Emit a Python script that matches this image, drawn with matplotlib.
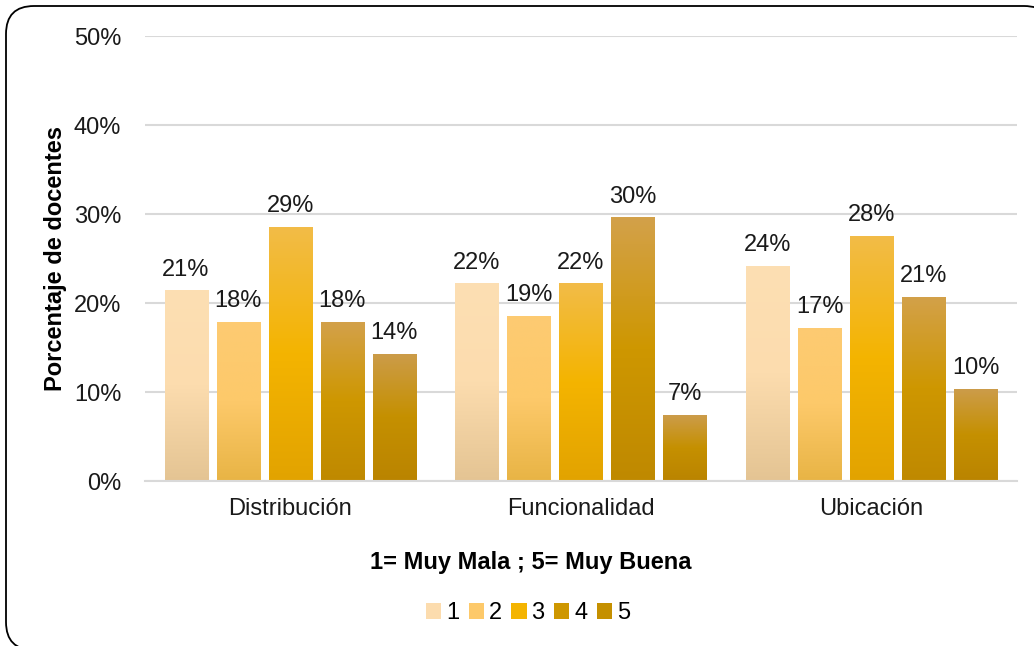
import numpy as np
import matplotlib.pyplot as plt
from matplotlib.colors import LinearSegmentedColormap
from matplotlib.patches import FancyBboxPatch, Patch

plt.rcParams['font.family'] = ['Liberation Sans', 'DejaVu Sans']

# ---------------------------------------------------------------------------
# Data
# ---------------------------------------------------------------------------
categories = ["Distribución", "Funcionalidad", "Ubicación"]
series = ["1", "2", "3", "4", "5"]
values = np.array([
    [0.2143, 0.2222, 0.2414],   # 1
    [0.1786, 0.1852, 0.1724],   # 2
    [0.2857, 0.2222, 0.2759],   # 3
    [0.1786, 0.2963, 0.2069],   # 4
    [0.1429, 0.0741, 0.1034],   # 5
])

# gradient colours per series: bottom, middle, top
gradients = [
    ["#E4C493", "#FCDCAE", "#FDDFB3"],
    ["#E8B445", "#FDC96A", "#FDCB72"],
    ["#E2A300", "#F4B400", "#F2BC48"],
    ["#BF8900", "#CE9700", "#D3A14A"],
    ["#BA8400", "#C59000", "#CC9C4A"],
]

# ---------------------------------------------------------------------------
# Figure
# ---------------------------------------------------------------------------
fig = plt.figure(figsize=(10.34, 6.46), dpi=100)
ax = fig.add_axes([0.140, 0.2554, 0.8436, 0.6886])

# rounded outer frame (partly cropped at right and bottom, as in the source)
frame = FancyBboxPatch((0.06, -0.04), 10.46, 6.44,
                       boxstyle="round,pad=0,rounding_size=0.28",
                       transform=fig.dpi_scale_trans, facecolor="white",
                       edgecolor="black", linewidth=1.3, zorder=-10)
fig.patches.append(frame)

x = np.arange(len(categories))
step = 0.179
width = 0.148

for i, name in enumerate(series):
    cmap = LinearSegmentedColormap.from_list(f"g{i}", gradients[i])
    offs = (i - 2) * step
    bars = ax.bar(x + offs, values[i], width, color="none", edgecolor="none",
                  label=name, zorder=2)
    for bar, v in zip(bars, values[i]):
        x0 = bar.get_x()
        grad = np.linspace(0, 1, 256).reshape(-1, 1)
        im = ax.imshow(grad, cmap=cmap, origin="lower", aspect="auto",
                       extent=[x0, x0 + width, 0, v], zorder=2,
                       interpolation="bilinear")
        im.set_clip_path(bar)
        ax.text(x0 + width / 2, v + 0.011, f"{v:.0%}", ha="center",
                va="bottom", fontsize=17, color="#1a1a1a")

ax.set_xlim(-0.5, 2.5)
ax.set_ylim(0, 0.5)
ax.set_yticks(np.arange(0, 0.51, 0.1))
ax.set_yticklabels([f"{t:.0%}" for t in np.arange(0, 0.51, 0.1)], fontsize=17)
ax.set_xticks(x)
ax.set_xticklabels(categories, fontsize=17)
ax.tick_params(axis="both", length=0, pad=12, colors="#1a1a1a")
ax.tick_params(axis="y", pad=17)
ax.grid(axis="y", color="#D9D9D9", linewidth=1.5, zorder=0)
ax.set_axisbelow(True)
for s in ["top", "right", "left"]:
    ax.spines[s].set_visible(False)
ax.spines["bottom"].set_color("#D9D9D9")
ax.spines["bottom"].set_linewidth(1.5)

ax.set_ylabel("Porcentaje de docentes", fontsize=17, fontweight="bold",
              labelpad=5)
fig.text(531 / 1034, 1 - 562 / 646, "1= Muy Mala ; 5= Muy Buena",
         fontsize=17, fontweight="bold", ha="center", va="center")

handles = [Patch(facecolor=g[1], edgecolor="none") for g in gradients]
fig.legend(handles, series, loc="center", bbox_to_anchor=(528 / 1034, 0.051),
           ncol=5, frameon=False, fontsize=17, handlelength=0.65,
           handleheight=0.65, handletextpad=0.2, columnspacing=0.4)

fig.savefig("out.png", dpi=100)
